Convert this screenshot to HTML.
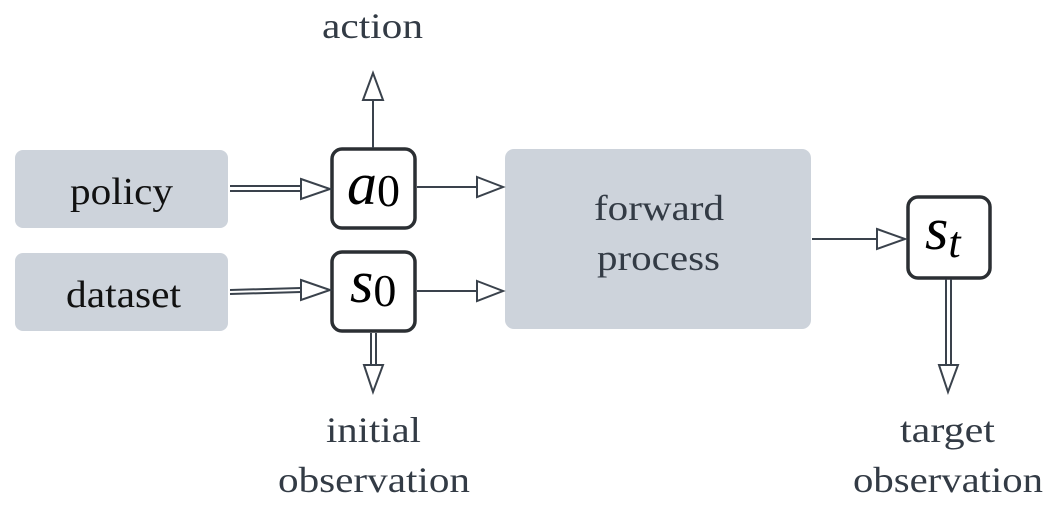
<!DOCTYPE html>
<html><head><style>
body{margin:0;width:1053px;height:517px;background:#fff;overflow:hidden}
svg{display:block}
text{font-family:"Liberation Serif",serif}
</style></head><body>
<svg width="1053" height="517" viewBox="0 0 1053 517">
<g fill="#cdd3db">
<rect x="15" y="150" width="213" height="78" rx="8"/>
<rect x="15" y="253" width="213" height="78" rx="8"/>
<rect x="505" y="149" width="306" height="180" rx="9"/>
</g>
<g fill="#fff" stroke="#2b2f33" stroke-width="3.5">
<rect x="332" y="149" width="83" height="79" rx="10"/>
<rect x="332" y="252" width="83" height="79" rx="10"/>
<rect x="908" y="197" width="82" height="81" rx="10"/>
</g>
<g stroke="#3a424c" stroke-width="2" fill="none">
<line x1="230" y1="186" x2="301" y2="186"/><line x1="230" y1="191" x2="301" y2="191"/>
<line x1="230" y1="290" x2="301" y2="288"/><line x1="230" y1="294" x2="301" y2="292"/>
<line x1="373" y1="148" x2="373" y2="100"/>
<line x1="417" y1="187" x2="477" y2="187"/>
<line x1="417" y1="291" x2="477" y2="291"/>
<line x1="371" y1="333" x2="371" y2="365"/><line x1="376" y1="333" x2="376" y2="365"/>
<line x1="812" y1="239" x2="877" y2="239"/>
<line x1="946" y1="279" x2="946" y2="365"/><line x1="951" y1="279" x2="951" y2="365"/>
</g>
<g fill="#fff" stroke="#3a424c" stroke-width="2" stroke-linejoin="miter">
<polygon points="301,179 330,189 301,199"/>
<polygon points="301,280 330,290 301,300"/>
<polygon points="363,100 373,73 383,100"/>
<polygon points="477,177 503,187 477,197"/>
<polygon points="477,281 503,291 477,301"/>
<polygon points="364,365 373,392 383,365"/>
<polygon points="877,229 905,239 877,249"/>
<polygon points="939,365 948,392 958,365"/>
</g>
<g fill="#111" font-size="38">
<text x="70" y="204" textLength="103" lengthAdjust="spacingAndGlyphs">policy</text>
<text x="66" y="307" textLength="115" lengthAdjust="spacingAndGlyphs">dataset</text>
</g>
<g fill="#333b45" font-size="36">
<text x="322" y="38" textLength="101" lengthAdjust="spacingAndGlyphs">action</text>
<text x="594" y="220" textLength="130" lengthAdjust="spacingAndGlyphs">forward</text>
<text x="597" y="270" textLength="123" lengthAdjust="spacingAndGlyphs">process</text>
<text x="326" y="442" textLength="95" lengthAdjust="spacingAndGlyphs">initial</text>
<text x="278" y="492" textLength="192" lengthAdjust="spacingAndGlyphs">observation</text>
<text x="900" y="442" textLength="95" lengthAdjust="spacingAndGlyphs">target</text>
<text x="853" y="492" textLength="190" lengthAdjust="spacingAndGlyphs">observation</text>
</g>
<g fill="#000" font-style="italic">
<text x="347" y="204" font-size="60">a<tspan font-style="normal" font-size="46" dy="2">0</tspan></text>
<text x="350" y="302" font-size="60">s<tspan font-style="normal" font-size="46" dy="4">0</tspan></text>
<text x="925" y="249" font-size="60">s<tspan font-size="44" dy="8">t</tspan></text>
</g>
</svg>
</body></html>
